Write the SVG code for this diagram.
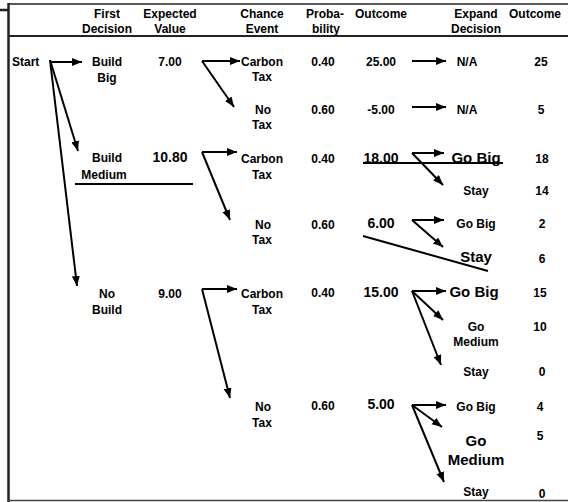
<svg xmlns="http://www.w3.org/2000/svg" width="568" height="502" viewBox="0 0 568 502">
<style>
text{font-family:"Liberation Sans",Arial,sans-serif;font-weight:bold;font-size:12px;fill:#000;text-anchor:middle}
.b{font-size:14px}
.l{font-size:15px}
.s{text-anchor:start}
.c{fill:none;stroke:#000;stroke-width:2}
.a{marker-end:url(#ah)}
.frame{fill:none;stroke:#222}
</style>
<defs>
<marker id="ah" markerUnits="userSpaceOnUse" markerWidth="11" markerHeight="9" refX="10" refY="4" orient="auto">
<path d="M0,0 L10,4 L0,8 z" fill="#000"/>
</marker>
</defs>
<rect width="568" height="502" fill="#fff"/>
<g id="frame">
<line class="frame" x1="8" y1="4" x2="568" y2="4" stroke-width="1.6"/>
<line class="frame" x1="0" y1="10" x2="8" y2="10" stroke-width="2.5"/>
<line class="frame" x1="8.5" y1="3" x2="8.5" y2="502" stroke-width="2.5"/>
<line class="frame" x1="8" y1="36" x2="568" y2="36" stroke-width="2"/>
<line x1="8" y1="500.5" x2="568" y2="500.5" stroke="#444" stroke-width="1.5"/>
</g>
<g id="header">
<text x="107" y="18">First</text><text x="107" y="33">Decision</text>
<text x="170" y="18">Expected</text><text x="170" y="33">Value</text>
<text x="262" y="18">Chance</text><text x="262" y="33">Event</text>
<text x="325" y="18">Proba-</text><text x="326" y="33">bility</text>
<text x="381" y="18">Outcome</text>
<text x="476" y="18">Expand</text><text x="476" y="33">Decision</text>
<text class="s" x="509" y="18">Outcome</text>
</g>
<g id="start"><text class="s" x="12" y="66">Start</text></g>
<g id="build-big">
<text x="107" y="66">Build</text><text x="107" y="82">Big</text>
<text x="170" y="66">7.00</text>
</g>
<g id="bb-carbon">
<text x="262" y="66">Carbon</text><text x="262" y="81">Tax</text>
<text x="323" y="66">0.40</text><text x="381" y="66">25.00</text>
<text x="467" y="66">N/A</text><text x="541" y="66">25</text>
</g>
<g id="bb-notax">
<text x="263" y="114">No</text><text x="262" y="129">Tax</text>
<text x="323" y="114">0.60</text><text x="381" y="114">-5.00</text>
<text x="467" y="114">N/A</text><text x="541" y="114">5</text>
</g>
<g id="build-medium">
<text x="107" y="162">Build</text><text x="104" y="179">Medium</text>
<text class="b" x="170" y="162">10.80</text>
</g>
<g id="bm-carbon">
<text x="262" y="163">Carbon</text><text x="262" y="179">Tax</text>
<text x="323" y="163">0.40</text><text class="b" x="381" y="163">18.00</text>
<text class="l" x="476" y="163">Go Big</text><text x="542" y="163">18</text>
<text x="476" y="195">Stay</text><text x="542" y="195">14</text>
</g>
<g id="bm-notax">
<text x="263" y="229">No</text><text x="262" y="244">Tax</text>
<text x="323" y="229">0.60</text><text class="b" x="381" y="228">6.00</text>
<text x="476" y="228">Go Big</text><text x="542" y="228">2</text>
<text class="l" x="476" y="262">Stay</text><text x="542" y="263">6</text>
</g>
<g id="no-build">
<text x="107" y="298">No</text><text x="107" y="314">Build</text>
<text x="170" y="298">9.00</text>
</g>
<g id="nb-carbon">
<text x="262" y="298">Carbon</text><text x="262" y="314">Tax</text>
<text x="323" y="297">0.40</text><text class="b" x="381" y="297">15.00</text>
<text class="l" x="474" y="297">Go Big</text><text x="540" y="297">15</text>
<text x="476" y="331">Go</text><text x="476" y="346">Medium</text><text x="540" y="331">10</text>
<text x="476" y="376">Stay</text><text x="542" y="376">0</text>
</g>
<g id="nb-notax">
<text x="263" y="411">No</text><text x="262" y="427">Tax</text>
<text x="323" y="410">0.60</text><text class="b" x="381" y="409">5.00</text>
<text x="476" y="411">Go Big</text><text x="540" y="411">4</text>
<text class="l" x="476" y="446">Go</text><text class="l" x="476" y="465">Medium</text><text x="540" y="440">5</text>
<text x="476" y="496">Stay</text><text x="542" y="498">0</text>
</g>
<g id="connectors">
<line class="c a" x1="50" y1="62" x2="82" y2="62"/>
<line class="c a" x1="50" y1="60" x2="78" y2="151"/>
<line class="c a" x1="50" y1="60" x2="77" y2="286"/>
<line class="c a" x1="202" y1="61" x2="240" y2="61"/>
<line class="c a" x1="202" y1="61" x2="234" y2="107"/>
<line class="c a" x1="202" y1="152" x2="237" y2="152"/>
<line class="c a" x1="202" y1="152" x2="230" y2="220"/>
<line class="c a" x1="202" y1="289" x2="237" y2="289"/>
<line class="c a" x1="202" y1="289" x2="230" y2="398"/>
<line class="c a" x1="412" y1="61" x2="446" y2="61"/>
<line class="c a" x1="412" y1="107" x2="446" y2="107"/>
<line class="c a" x1="412" y1="153" x2="444" y2="153"/>
<line class="c a" x1="412" y1="153" x2="443" y2="185"/>
<line class="c a" x1="412" y1="220" x2="444" y2="220"/>
<line class="c a" x1="412" y1="220" x2="443" y2="247"/>
<line class="c a" x1="412" y1="291" x2="446" y2="291"/>
<line class="c a" x1="412" y1="291" x2="443" y2="320"/>
<line class="c a" x1="412" y1="291" x2="441" y2="365"/>
<line class="c a" x1="412" y1="405" x2="446" y2="405"/>
<line class="c a" x1="412" y1="405" x2="442" y2="427"/>
<line class="c a" x1="412" y1="405" x2="444" y2="482"/>
<line class="c" x1="363" y1="163" x2="503" y2="163"/>
<line class="c" x1="75" y1="184" x2="193" y2="184" stroke-width="2.5"/>
<line class="c" x1="363" y1="236" x2="488" y2="271" stroke-width="2.5"/>
</g>
</svg>
